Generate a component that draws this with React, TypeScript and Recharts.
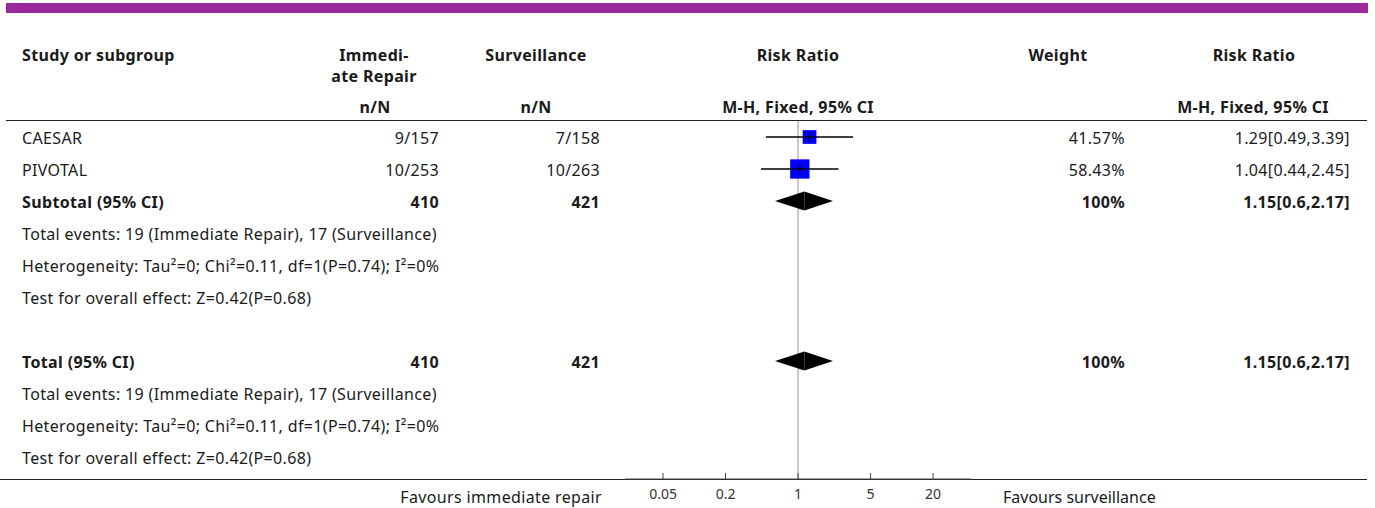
import React from 'react';
import {
  ComposedChart,
  XAxis,
  YAxis,
  Scatter,
  ErrorBar,
  ReferenceLine,
  Customized,
} from 'recharts';

// study level data
const studies = ['CAESAR', 'PIVOTAL'];
const repairEvents = [9, 10];
const repairTotals = [157, 253];
const survEvents = [7, 10];
const survTotals = [158, 263];
const weights = [41.57, 58.43];
const riskRatios = [1.29, 1.04];
const ciLow = [0.49, 0.44];
const ciHigh = [3.39, 2.45];

// pooled estimate (subtotal and total are identical here)
const pooledLabels = ['Subtotal (95% CI)', 'Total (95% CI)'];
const pooledRows = [2, 7];
const pooledRepairN = 410;
const pooledSurvN = 421;
const pooledWeight = 100;
const pooledRR = 1.15;
const pooledLow = 0.6;
const pooledHigh = 2.17;
const footnotes = [
  'Total events: 19 (Immediate Repair), 17 (Surveillance)',
  'Heterogeneity: Tau²=0; Chi²=0.11, df=1(P=0.74); I²=0%',
  'Test for overall effect: Z=0.42(P=0.68)',
];

const axisTicks = [0.05, 0.2, 1, 5, 20];
const axisDomain = [0.0215, 46.4];

const W = 1375;
const H = 508;
const FONT = '"Noto Sans", sans-serif';
const FS = 16;
const LS = 0.35;
const INK = '#1a1a1a';
const COL = { label: 22, repair: 439, surv: 600, weight: 1125, ci: 1350 };
const SQUARE_PX_PER_WEIGHT = 0.33;
const DIAMOND_HALF = 9.5;

interface TableRow {
  y: number;
  label: string;
  bold?: boolean;
  repair?: string;
  surv?: string;
  weight?: string;
  ci?: string;
}

const fmtCI = (rr: number, lo: number, hi: number) => `${rr}[${lo},${hi}]`;

const studyRows: TableRow[] = studies.map((name, i) => ({
  y: i,
  label: name,
  repair: `${repairEvents[i]}/${repairTotals[i]}`,
  surv: `${survEvents[i]}/${survTotals[i]}`,
  weight: `${weights[i]}%`,
  ci: fmtCI(riskRatios[i], ciLow[i], ciHigh[i]),
}));

const pooledBlock = (label: string, start: number): TableRow[] => [
  {
    y: start,
    label,
    bold: true,
    repair: String(pooledRepairN),
    surv: String(pooledSurvN),
    weight: `${pooledWeight}%`,
    ci: fmtCI(pooledRR, pooledLow, pooledHigh),
  },
  ...footnotes.map((f, k) => ({ y: start + 1 + k, label: f })),
];

const tableRows: TableRow[] = [
  ...studyRows,
  ...pooledBlock(pooledLabels[0], pooledRows[0]),
  ...pooledBlock(pooledLabels[1], pooledRows[1]),
];

// the text rows ride on the y scale; x is pinned to the null line
const textData = tableRows.map((r) => ({ ...r, x: 1 }));

const squareData = studies.map((name, i) => ({
  name,
  x: riskRatios[i],
  y: i,
  weight: weights[i],
  err: [riskRatios[i] - ciLow[i], ciHigh[i] - riskRatios[i]],
}));

const renderRowText = (p: any) => {
  const row: TableRow = p.payload;
  const base = p.cy + 7;
  return (
    <g fontFamily={FONT} fontSize={FS} fill={INK} letterSpacing={LS} fontWeight={row.bold ? 700 : 400}>
      <text x={COL.label} y={base}>{row.label}</text>
      {row.repair && <text x={COL.repair} y={base} textAnchor="end">{row.repair}</text>}
      {row.surv && <text x={COL.surv} y={base} textAnchor="end">{row.surv}</text>}
      {row.weight && <text x={COL.weight} y={base} textAnchor="end">{row.weight}</text>}
      {row.ci && <text x={COL.ci} y={base} textAnchor="end">{row.ci}</text>}
    </g>
  );
};

const AxisTick = (props: any) => {
  const { x, y, payload } = props;
  return (
    <g>
      <line x1={x} x2={x} y1={y - 6} y2={y} stroke="#444" strokeWidth={1} />
      <text x={x} y={y + 20} textAnchor="middle" fontSize={14} fill="#333" fontFamily={FONT}>
        {payload.value}
      </text>
    </g>
  );
};

// square plus the cross drawn over it (CI line through the box, tick at the estimate)
const renderSquare = (p: any) => {
  const s = p.payload.weight * SQUARE_PX_PER_WEIGHT;
  return (
    <g>
      <rect x={p.cx - s / 2} y={p.cy - s / 2} width={s} height={s} fill="#0000ff" />
      <line x1={p.cx - s / 2} x2={p.cx + s / 2} y1={p.cy} y2={p.cy} stroke="#000" strokeWidth={1.3} />
      <line x1={p.cx} x2={p.cx} y1={p.cy - 5} y2={p.cy + 5} stroke="#000" strokeWidth={1.3} />
    </g>
  );
};

// left half of the diamond: segment runs from lower CI to the estimate
const leftHalf = (p: any) => (
  <polygon
    points={`${p.x1},${p.y1} ${p.x2},${p.y2 - DIAMOND_HALF} ${p.x2},${p.y2 + DIAMOND_HALF}`}
    fill="#000"
  />
);
// right half: from the estimate to upper CI
const rightHalf = (p: any) => (
  <polygon
    points={`${p.x1},${p.y1 - DIAMOND_HALF} ${p.x2},${p.y2} ${p.x1},${p.y1 + DIAMOND_HALF}`}
    fill="#000"
  />
);

const Decorations = () => (
  <g fontFamily={FONT} fontSize={FS} fill={INK} letterSpacing={LS}>
    <rect x={6} y={3} width={1362} height={10} fill="#9c2a9a" />
    <g fontWeight={700}>
      <text x={22} y={61}>Study or subgroup</text>
      <text x={374} y={61} textAnchor="middle">Immedi-</text>
      <text x={374} y={82} textAnchor="middle">ate Repair</text>
      <text x={375} y={113} textAnchor="middle">n/N</text>
      <text x={536} y={61} textAnchor="middle">Surveillance</text>
      <text x={536} y={113} textAnchor="middle">n/N</text>
      <text x={798} y={61} textAnchor="middle">Risk Ratio</text>
      <text x={798} y={113} textAnchor="middle">M-H, Fixed, 95% CI</text>
      <text x={1058} y={61} textAnchor="middle">Weight</text>
      <text x={1254} y={61} textAnchor="middle">Risk Ratio</text>
      <text x={1253} y={113} textAnchor="middle">M-H, Fixed, 95% CI</text>
    </g>
    <line x1={6} x2={1367} y1={120.5} y2={120.5} stroke="#222" strokeWidth={1.2} />
    <line x1={0} x2={1367} y1={479.5} y2={479.5} stroke="#222" strokeWidth={1.2} />
    <text x={602} y={503} textAnchor="end">Favours immediate repair</text>
    <text x={1003} y={503} letterSpacing={0}>Favours surveillance</text>
  </g>
);

const App: React.FC = () => (
  <div style={{ position: 'absolute', left: 0, top: 0, width: W, height: H, background: '#fff' }}>
    <ComposedChart width={W} height={H} margin={{ top: 121, right: 404, bottom: 0, left: 625 }}>
      <Customized component={Decorations} />
      <XAxis
        type="number"
        dataKey="x"
        scale="log"
        domain={axisDomain}
        ticks={axisTicks}
        interval={0}
        height={29}
        tickSize={0}
        tickMargin={0}
        tickLine={false}
        axisLine={{ stroke: '#444', strokeWidth: 1.2 }}
        tick={<AxisTick />}
      />
      <YAxis type="number" dataKey="y" domain={[-0.5, 10.69]} reversed hide width={0} />
      <ReferenceLine x={1} stroke="#a3a3a3" strokeWidth={1.2} ifOverflow="visible" />
      <Scatter data={textData} shape={renderRowText} isAnimationActive={false} />
      <Scatter data={squareData} shape={renderSquare} isAnimationActive={false}>
        <ErrorBar dataKey="err" direction="x" width={0} stroke="#000" strokeWidth={1.3} isAnimationActive={false} />
      </Scatter>
      {pooledRows.map((r) => (
        <ReferenceLine
          key={`dl${r}`}
          segment={[{ x: pooledLow, y: r }, { x: pooledRR, y: r }]}
          shape={leftHalf}
          ifOverflow="visible"
        />
      ))}
      {pooledRows.map((r) => (
        <ReferenceLine
          key={`dr${r}`}
          segment={[{ x: pooledRR, y: r }, { x: pooledHigh, y: r }]}
          shape={rightHalf}
          ifOverflow="visible"
        />
      ))}
    </ComposedChart>
  </div>
);

export default App;
